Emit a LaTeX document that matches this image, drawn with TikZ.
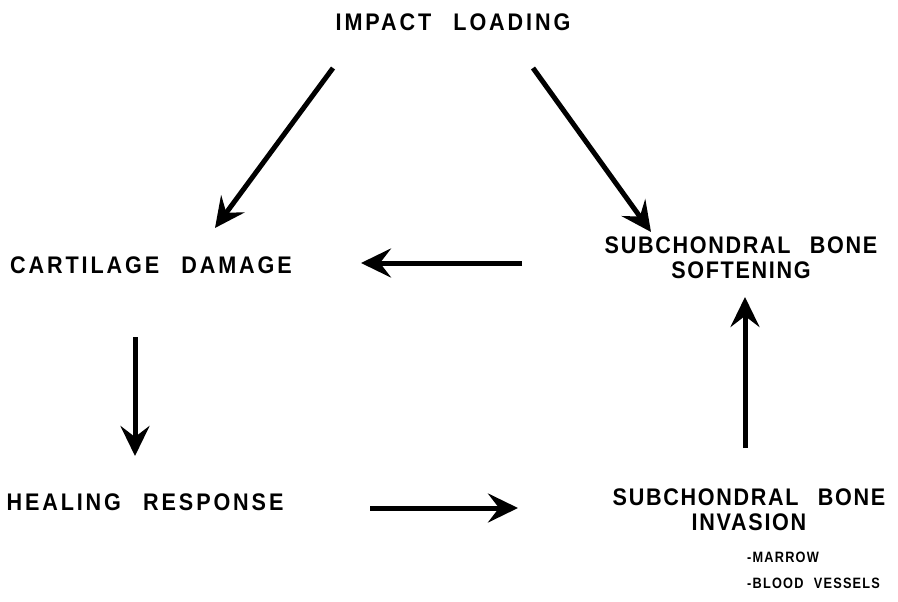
\documentclass[tikz,border=0pt]{standalone}
\usepackage{fontspec}
\newfontfamily\lblfont{Liberation Sans}[FakeStretch=0.9,LetterSpace=12,WordSpace=2.5]
\newfontfamily\smlfont{Liberation Sans}[FakeStretch=0.85,LetterSpace=8,WordSpace=2.2]
\usetikzlibrary{arrows.meta}
\begin{document}
\begin{tikzpicture}[x=1pt,y=-1pt,
  lbl/.style={inner sep=0pt,font=\lblfont\fontsize{24}{25}\selectfont\bfseries,align=center},
  tight/.style={font=\lblfont\fontsize{24}{25}\selectfont\bfseries\addfontfeatures{LetterSpace=7}},
  sml/.style={inner sep=0pt,font=\smlfont\fontsize{15}{26}\selectfont\bfseries,align=left},
  arr/.style={line width=5pt,-{Stealth[length=30pt,width=29pt,inset=11pt]}}]
\path[use as bounding box] (0,0) rectangle (898,602);
\node[lbl] (impact) at (453,22) {IMPACT LOADING};
\node[lbl] (cart) at (151,265) {CARTILAGE DAMAGE};
\node[lbl,tight] (soft) at (741,258) {SUBCHONDRAL BONE\\SOFTENING};
\node[lbl] (heal) at (145,502) {HEALING RESPONSE};
\node[lbl,tight] (inv) at (749,510) {SUBCHONDRAL BONE\\INVASION};
\node[sml,anchor=north west] (list) at (747,552) {-MARROW\\-BLOOD VESSELS};
\coordinate (a1s) at (333,68); \coordinate (a1e) at (215,228);
\coordinate (a2s) at (533,68); \coordinate (a2e) at (651,232);
\coordinate (a3s) at (522,263); \coordinate (a3e) at (361,263);
\coordinate (a4s) at (135,337); \coordinate (a4e) at (135,456);
\coordinate (a5s) at (745,448); \coordinate (a5e) at (745,297);
\coordinate (a6s) at (370,508); \coordinate (a6e) at (518,508);
\draw[arr] (a1s) -- (a1e);
\draw[arr] (a2s) -- (a2e);
\draw[arr] (a3s) -- (a3e);
\draw[arr] (a4s) -- (a4e);
\draw[arr] (a5s) -- (a5e);
\draw[arr] (a6s) -- (a6e);
\end{tikzpicture}
\end{document}
